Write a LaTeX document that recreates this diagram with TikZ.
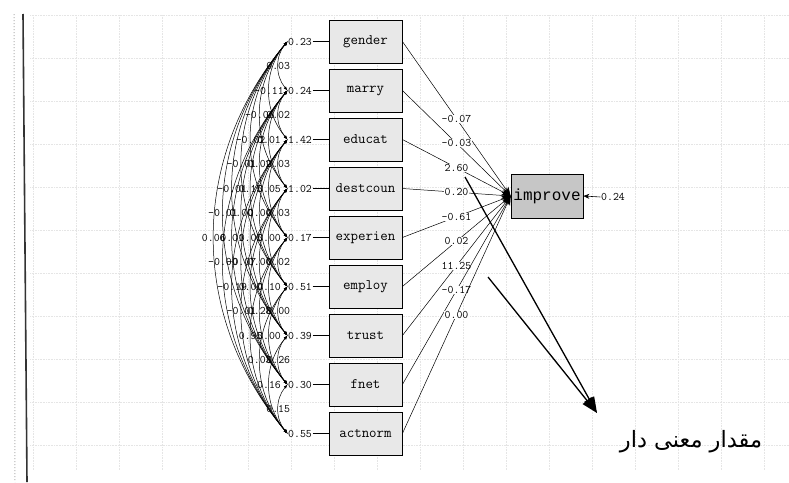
\documentclass[tikz,border=0pt]{standalone}
\usepackage{fontspec}
\newfontfamily\impfont{Liberation Mono}
\newfontfamily\arabicfont[Script=Arabic]{DejaVu Sans}
\TeXXeTstate=1
\usetikzlibrary{arrows.meta}
\tikzset{
  varbox/.style={draw=black, line width=0.8pt, fill=gray!18, minimum width=73pt, minimum height=43pt, inner sep=0pt, font=\fontsize{14.5}{14.5}\selectfont\ttfamily},
  depbox/.style={draw=black, line width=0.8pt, fill=gray!45, minimum width=72pt, minimum height=44pt, inner sep=0pt, font=\fontsize{16}{16}\selectfont\impfont},
  numlab/.style={font=\fontsize{11.5}{11.5}\selectfont\ttfamily, inner sep=0.5pt},
  pathlab/.style={numlab, fill=white},
  covarc/.style={line width=0.5pt, {Latex[length=4pt,width=3pt]}-{Latex[length=4pt,width=3pt]}},
  pathline/.style={line width=0.5pt, -{Stealth[length=9pt,width=7pt]}},
  bigarrow/.style={line width=1.3pt, -{Triangle[length=16pt,width=11pt]}},
  gridline/.style={gray!20, densely dotted, line width=0.6pt}
}
\begin{document}
\begin{tikzpicture}[x=1pt,y=-1pt]
\useasboundingbox (0,0) rectangle (789,482);
\fill[white] (0,0) rectangle (789,482);
% faint background grid
\foreach \gx in {33,76,...,789} \draw[gridline] (\gx,15) -- (\gx,470);
\foreach \gy in {15,58,...,470} \draw[gridline] (30,\gy) -- (789,\gy);
% left border
\draw[gray!60, dotted, line width=1pt] (14,14) -- (15,482);
\draw[black!80, line width=1.6pt] (23,14) -- (27,482);

% exogenous boxes and variances
\foreach \t/\v [count=\i from 0] in {gender/0.23, marry/0.24, educat/1.42, destcoun/1.02, experien/0.17, employ/0.51, trust/0.39, fnet/0.30, actnorm/0.55}{
  \node[varbox] (b\i) at (365.5,{41.5+49*\i}) {\t};
  \node[numlab] (v\i) at (300,{41.5+49*\i}) {\v};
  \draw[line width=0.5pt] (v\i.east) -- (b\i.west);
}

% dependent variable
\node[depbox] (imp) at (547,196) {improve};
\node[numlab] (err) at (613,197) {0.24};
\draw[line width=0.6pt, -{Stealth[length=6pt,width=5pt]}] (err.west) -- (imp.east);

% covariances
\foreach \i/\j/\l in {0/1/0.03, 0/2/-0.11, 0/3/-0.06, 1/2/0.02, 0/4/-0.02, 1/3/0.01,
  0/5/-0.01, 1/4/0.02, 2/3/0.03, 0/6/-0.01, 1/5/0.15, 2/4/0.05,
  0/7/-0.01, 1/6/0.00, 2/5/0.00, 3/4/0.03, 0/8/0.06, 1/7/0.01, 2/6/0.05, 3/5/0.00,
  1/8/-0.00, 2/7/-0.07, 3/6/0.00, 4/5/0.02, 2/8/-0.19, 3/7/0.00, 4/6/0.10,
  3/8/-0.01, 4/7/0.28, 5/6/0.00, 4/8/0.95, 5/7/0.00, 5/8/0.03, 6/7/0.26,
  6/8/0.16, 7/8/0.15}{
  \draw[covarc] (v\i.west) to[bend right=40] node[numlab]{\l} (v\j.west);
}

% paths to improve
\foreach \l [count=\i from 0] in {-0.07, -0.03, 2.60, 0.20, -0.61, 0.02, 11.25, -0.17, 0.00}{
  \draw[pathline] (b\i.east) -- node[pathlab, pos=0.5]{\l} (imp.west);
}

% highlighting arrows
\coordinate (s1) at (465,177);
\coordinate (s2) at (488,277);
\coordinate (tip) at (597,413);
\draw[bigarrow] (s1) -- (tip);
\draw[bigarrow] (s2) -- (tip);
\node[font=\arabicfont\fontsize{22.5}{22.5}\selectfont, inner sep=0pt] (note) at (691,442) {\beginR مقدار معنی دار\endR};
\end{tikzpicture}
\end{document}
